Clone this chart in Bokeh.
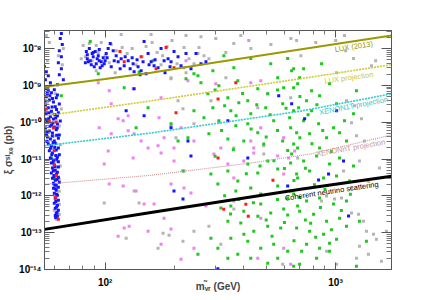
from bokeh.plotting import figure
from bokeh.models import LogAxis, FixedTicker, Label, Range1d, CustomJSTickFormatter
from bokeh.embed import file_html
from bokeh.resources import INLINE

FONT = "Liberation Sans"
X_MIN, X_MAX = 54.5, 1750.0
Y_MIN, Y_MAX = 1e-14, 3.1e-8

x_ticks = [100, 1000]
y_ticks = [1e-14, 1e-13, 1e-12, 1e-11, 1e-10, 1e-9, 1e-8]
x_title = "m\u1d65\u0303\u1d63 (GeV)"
y_title = "\u03be \u03c3\u02e2\u1d35\u2093\u2091 (pb)"

# ---- limit / projection curves (mass GeV, xi*sigma pb) ----
lux2013_m = [54.5, 100, 158, 300, 700, 1750]
lux2013_s = [9.2e-10, 1.5e-9, 2.2e-9, 4.2e-9, 9.4e-9, 2.26e-8]
luxproj_m = [54.5, 63, 158, 705, 1750]
luxproj_s = [1.5e-10, 1.69e-10, 3.8e-10, 1.52e-9, 3.66e-9]
xenon1t_m = [54.5, 158, 705, 1750]
xenon1t_s = [2.3e-11, 5.1e-11, 2.0e-10, 5.9e-10]
xenonnt_m = [54.5, 158, 429, 781, 1750]
xenonnt_s = [2.07e-12, 3.62e-12, 7.8e-12, 1.38e-11, 4.5e-11]
neutrino_m = [54.5, 158, 705, 1750]
neutrino_s = [1.23e-13, 3.55e-13, 1.52e-12, 3.4e-12]

# ---- scan points (mass GeV, xi*sigma pb) ----
blue_band = [
    (64.5, 2.56e-8), (63.8, 1.87e-8), (65.1, 1.29e-8), (63.2, 8.8e-9), (64.5, 6.0e-9),
    (62.6, 4.15e-9), (64.5, 2.85e-9), (63.2, 1.96e-9), (65.8, 1.43e-9), (62.0, 1.04e-9),
    (54.5, 3.2e-9), (55.5, 2.35e-9), (56.6, 1.84e-9), (55.0, 1.43e-9), (57.8, 1.18e-9),
    (55.0, 8.1e-10), (56.6, 7.2e-10), (58.4, 6.3e-10), (60.1, 7.6e-10), (62.0, 5.5e-10),
    (55.5, 4.9e-10), (57.2, 4.0e-10), (59.6, 3.57e-10), (61.3, 4.6e-10), (63.2, 3.15e-10),
    (55.0, 2.96e-10), (56.6, 2.47e-10), (58.4, 2.0e-10), (60.7, 2.63e-10), (62.6, 1.8e-10),
    (55.5, 1.69e-10), (57.8, 1.41e-10), (59.6, 1.23e-10), (62.0, 1.5e-10), (63.8, 1.08e-10),
    (56.1, 1.02e-10), (58.4, 8.4e-11), (60.1, 7.4e-11), (62.0, 9.0e-11), (55.0, 7.0e-11),
    (57.2, 5.8e-11), (59.0, 5.1e-11), (61.3, 6.2e-11), (63.2, 4.5e-11), (56.1, 3.95e-11),
    (57.8, 3.5e-11), (60.1, 3.1e-11), (62.6, 3.7e-11),
    (56.6, 2.55e-11), (58.4, 2.3e-11), (60.7, 2.7e-11), (62.6, 2.0e-11), (57.2, 1.68e-11),
    (59.0, 1.47e-11), (61.3, 1.77e-11), (63.2, 1.3e-11), (57.8, 1.07e-11), (59.6, 9.4e-12),
    (62.0, 1.14e-11), (58.4, 7.8e-12), (60.1, 6.9e-12), (62.6, 8.4e-12), (59.0, 5.7e-12),
    (60.7, 5.0e-12), (62.6, 6.1e-12), (58.4, 4.2e-12), (60.1, 3.6e-12), (62.0, 4.4e-12),
    (59.0, 3.0e-12), (60.7, 2.65e-12), (62.6, 3.2e-12), (59.6, 2.2e-12), (61.3, 1.95e-12),
    (63.2, 2.35e-12), (59.6, 1.62e-12), (61.3, 1.43e-12), (62.6, 1.72e-12), (60.1, 1.18e-12),
    (62.0, 1.04e-12), (60.7, 8.6e-13), (62.6, 7.6e-13), (60.1, 6.3e-13), (62.0, 5.6e-13),
    (60.7, 4.6e-13), (62.6, 4.05e-13), (61.3, 3.3e-13), (62.0, 2.8e-13), (60.7, 2.95e-13),
    (54.8, 9.0e-10), (56.0, 6.0e-10), (57.5, 5.2e-10), (59.0, 4.4e-10), (54.8, 3.8e-10),
    (58.8, 2.6e-10), (61.5, 2.2e-10), (54.6, 2.1e-10), (57.0, 1.8e-10), (60.5, 1.6e-10),
    (56.8, 1.25e-10), (61.0, 1.3e-10), (54.9, 1.2e-10), (59.3, 9.5e-11), (57.6, 7.8e-11),
    (55.8, 5.5e-11), (61.9, 7.0e-11), (58.9, 4.2e-11), (55.6, 4.7e-11), (61.6, 4.4e-11),
    (55.9, 3.0e-11), (59.4, 2.8e-11), (57.9, 1.95e-11), (60.4, 2.1e-11), (58.6, 1.3e-11),
    (61.0, 1.25e-11), (59.4, 8.2e-12), (61.6, 9.8e-12), (60.6, 6.2e-12), (59.5, 4.8e-12),
    (61.4, 3.9e-12), (59.8, 3.3e-12), (61.8, 2.8e-12), (60.5, 2.0e-12), (60.8, 1.55e-12),
    (61.5, 1.1e-12), (61.0, 7.0e-13), (61.5, 5.0e-13), (61.8, 3.6e-13), (60.9, 2.6e-13),
]
blue_cluster = [
    (82.8, 8.3e-9), (85.3, 1.0e-8), (87.8, 7.3e-9), (83.6, 5.3e-9), (84.4, 4.4e-9),
    (86.1, 4.7e-9), (88.7, 6.0e-9), (90.5, 8.3e-9), (93.3, 6.4e-9), (94.2, 4.7e-9),
    (96.1, 4.4e-9), (98.0, 5.66e-9), (99.0, 3.9e-9), (91.4, 3.9e-9), (89.6, 3.2e-9),
    (95.1, 3.0e-9), (101.0, 7.3e-9), (103.0, 1.0e-8), (105.1, 1.37e-8), (108.3, 8.8e-9),
    (109.4, 4.7e-9), (113.8, 4.4e-9), (117.3, 5.3e-9), (120.9, 3.4e-9), (125.8, 4.7e-9),
    (128.3, 2.85e-9), (132.2, 3.9e-9), (133.5, 2.35e-9), (138.9, 3.2e-9), (143.2, 2.5e-9),
    (146.0, 4.4e-9), (150.5, 2.07e-9), (147.5, 1.55e-8), (153.5, 7.3e-9), (158.2, 4.4e-9),
    (163.0, 3.4e-9), (169.6, 3.0e-9), (174.8, 1.0e-8), (180.2, 4.7e-9), (187.5, 5.3e-9),
    (193.1, 4.4e-9), (199.0, 8.3e-9), (207.1, 6.0e-9), (213.4, 3.4e-9), (224.3, 7.3e-9),
    (235.8, 2.85e-9), (247.9, 7.3e-9), (260.5, 3.9e-9), (273.8, 4.4e-9),
    (82.0, 4.15e-9), (87.0, 3.66e-9), (92.3, 5.3e-9), (97.0, 3.4e-9), (99.9, 4.7e-9),
    (83.6, 6.8e-9), (88.7, 7.8e-9), (94.2, 9.4e-9), (101.9, 5.66e-9), (106.2, 3.2e-9),
    (111.6, 6.4e-9), (116.1, 2.85e-9), (122.1, 6.0e-9), (130.9, 5.66e-9), (137.5, 5.0e-9),
    (141.7, 1.96e-9), (155.0, 3.66e-9), (164.6, 5.0e-9), (181.8, 2.2e-9), (191.2, 3.2e-9),
]
blue_scattered = [
    (123.3, 2.04e-10), (133.5, 8.13e-10), (147.5, 1.49e-10), (193.1, 7.04e-11),
    (228.7, 3.11e-11), (566.6, 5.24e-10), (340.8, 1.09e-10), (644.9, 3.17e-10),
    (734.2, 1.24e-10), (1010, 2.04e-10), (235.7, 1.21e-11), (198.9, 1.35e-12),
    (217.6, 8.18e-13), (416.0, 1.07e-11), (619.7, 1.85e-12), (308.4, 1.05e-14),
    (844.2, 2.69e-12), (1139, 2.82e-13), (1083, 8.87e-12), (932.7, 3.93e-12),
]
gray_band = [
    (55.5, 2.26e-8), (57.2, 1.46e-8), (65.8, 1.0e-8), (62.6, 6.4e-9), (56.1, 4.7e-9),
    (65.1, 3.66e-9), (57.8, 9.8e-10), (60.7, 5.9e-10), (56.1, 3.57e-10), (64.5, 2.3e-10),
    (59.0, 1.69e-10), (56.6, 1.15e-10), (63.2, 7.9e-11), (60.1, 4.2e-11), (55.5, 3.1e-11),
    (63.8, 2.45e-11), (59.6, 1.88e-11), (61.3, 8.9e-12), (63.8, 6.5e-12), (59.6, 4.7e-12),
    (63.2, 2.85e-12), (61.3, 3.4e-12), (60.1, 1.84e-12), (63.2, 1.34e-12), (61.3, 9.2e-13),
    (63.2, 5.9e-13), (60.1, 4.05e-13), (63.2, 3.1e-13), (61.3, 2.3e-13),
]
gray_cluster = [
    (80.2, 1.21e-8), (85.3, 1.37e-8), (91.4, 1.21e-8), (96.1, 1.46e-8), (82.0, 6.0e-9),
    (87.8, 4.7e-9), (93.3, 7.8e-9), (100.0, 6.4e-9), (106.2, 1.29e-8), (104.1, 4.15e-9),
    (111.6, 8.8e-9), (118.5, 1.07e-8), (124.5, 7.3e-9), (130.9, 1.0e-8), (136.2, 3.66e-9),
    (144.6, 6.0e-9), (150.5, 1.14e-8), (159.8, 1.46e-8), (168.0, 7.8e-9), (177.5, 6.4e-9),
    (185.6, 1.14e-8), (195.0, 1.65e-8), (205.0, 3.9e-9), (219.9, 1.07e-8), (231.2, 5.3e-9),
    (243.0, 3.9e-9), (255.4, 1.07e-8), (268.4, 6.4e-9), (282.0, 5.3e-9), (117.3, 2.4e-8),
    (158.2, 2.4e-8), (260.5, 2.1e-8), (91.4, 2.5e-9), (78.7, 5.3e-9), (110.5, 2.2e-9),
    (174.8, 3.66e-9), (302, 1.87e-8), (334, 7.8e-9), (388, 2.26e-8), (429, 1.0e-8),
    (524, 1.29e-8), (640, 1.87e-8), (707, 6.4e-9), (821, 1.46e-8), (1002, 1.65e-8),
    (1107, 8.8e-9), (1493, 4.7e-9), (193.1, 1.52e-9), (224.3, 2.2e-9),
]
gray_scattered = [
    (224.3, 2.26e-8), (252.7, 7.31e-9), (361.8, 1.37e-8), (193.1, 1.62e-9), (219.8, 3.04e-9),
    (334.1, 1.62e-9), (207.1, 3.83e-10), (287.7, 3.83e-10), (217.6, 2.32e-10), (459.6, 2.47e-10),
    (242.8, 9.04e-11), (638.5, 4.62e-10), (311.6, 1.0e-10), (487.9, 2.28e-11), (202.9, 3.76e-11),
    (361.8, 2.01e-11), (677.9, 1.65e-8), (1094, 2.26e-8), (1010, 2.22e-9), (1197, 5.34e-9),
    (1432, 3.44e-9), (1116, 3.83e-10), (1209, 2.80e-10), (1173, 9.63e-11), (1296, 1.24e-10),
    (1233, 4.26e-11), (1335, 3.11e-11), (178.3, 9.69e-14), (189.3, 8.5e-14), (169.6, 3.78e-14),
    (217.6, 5.87e-14), (242.8, 1.10e-13), (487.9, 1.38e-11), (684.6, 1.07e-11), (317.8, 4.86e-14),
    (589.6, 1.39e-14), (361.8, 4.37e-13), (282.0, 1.50e-13), (869.8, 7.22e-13), (914.3, 9.88e-13),
    (990.5, 8.18e-13), (1062, 8.71e-13), (1173, 3.40e-13), (1258, 3.19e-13), (1322, 2.06e-13),
    (1362, 1.10e-13), (1461, 9.10e-14), (1505, 6.65e-14), (1270, 4.29e-14), (1389, 2.60e-14),
    (1663, 1.10e-13), (1582, 1.67e-14), (1233, 2.02e-14), (1010, 1.39e-14), (914.3, 3.13e-14),
    (1173, 1.63e-12), (1389, 2.53e-12), (1551, 5.72e-12), (1083, 4.74e-12), (1270, 8.87e-12),
    (99.0, 6.37e-13), (133.5, 1.35e-12), (140.3, 6.37e-13), (123.3, 7.08e-14),
]
green = [
    (327.5, 6.44e-9), (242.8, 2.08e-9), (293.4, 2.51e-9), (361.8, 3.04e-9), (428.6, 5.34e-9),
    (523.2, 3.90e-9), (619.7, 5.34e-9), (260.4, 1.18e-9), (311.6, 9.81e-10), (376.5, 1.34e-9),
    (459.6, 8.13e-10), (561.0, 1.62e-9), (657.9, 2.85e-9), (279.2, 5.94e-10), (340.8, 4.62e-10),
    (416.0, 3.83e-10), (507.7, 5.94e-10), (595.5, 8.66e-10), (684.6, 1.11e-9), (293.4, 2.47e-10),
    (351.1, 2.04e-10), (380.3, 3.38e-10), (428.6, 1.69e-10), (497.7, 2.47e-10), (589.6, 3.17e-10),
    (657.9, 2.04e-10), (268.3, 1.32e-10), (311.6, 1.09e-10), (369.1, 7.98e-11), (416.0, 9.04e-11),
    (459.6, 5.14e-11), (539.0, 1.09e-10), (638.5, 7.04e-11), (282.0, 4.83e-11), (340.8, 3.53e-11),
    (399.7, 3.11e-11), (487.9, 2.58e-11), (589.6, 3.11e-11), (684.6, 2.01e-11), (228.7, 3.76e-11),
    (207.1, 3.11e-11), (193.1, 9.04e-11), (242.8, 2.04e-10),
    (869.8, 3.90e-9), (726.9, 2.85e-9), (644.9, 2.51e-9), (698.4, 1.62e-9), (787.3, 7.17e-10),
    (942.0, 1.11e-9), (657.9, 8.66e-10), (748.9, 3.83e-10), (852.6, 5.24e-10), (1010, 3.17e-10),
    (691.5, 2.47e-10), (787.3, 2.04e-10), (632.2, 1.32e-10), (726.9, 1.09e-10), (844.2, 9.04e-11),
    (980.3, 7.04e-11), (1094, 1.09e-10), (677.9, 5.14e-11), (771.7, 4.83e-11), (914.3, 3.76e-11),
    (1041, 5.14e-11), (1197, 1.69e-10), (1233, 7.17e-10), (657.9, 2.58e-11), (852.6, 2.01e-11),
    (1116, 3.11e-11),
    (287.7, 3.93e-12), (340.8, 4.74e-12), (376.5, 2.53e-12), (416.0, 7.35e-12), (459.6, 4.18e-12),
    (507.7, 8.87e-12), (561.0, 5.37e-12), (638.5, 7.83e-12), (684.6, 3.05e-12), (308.4, 2.10e-12),
    (369.1, 1.35e-12), (428.6, 1.63e-12), (473.5, 1.12e-12), (561.0, 1.85e-12), (619.7, 8.71e-13),
    (317.8, 4.65e-13), (351.1, 5.27e-13), (399.7, 3.85e-13), (473.5, 5.98e-13), (523.2, 3.40e-13),
    (595.5, 4.37e-13), (684.6, 5.27e-13), (340.8, 2.06e-13), (387.9, 1.82e-13), (441.6, 1.10e-13),
    (507.7, 1.50e-13), (578.0, 1.33e-13), (351.1, 7.08e-14), (416.0, 5.87e-14), (473.5, 3.78e-14),
    (539.0, 4.86e-14), (619.7, 3.13e-14), (376.5, 2.60e-14), (428.6, 2.02e-14), (507.7, 1.48e-14),
    (340.8, 2.02e-14), (287.7, 7.08e-14), (252.7, 2.60e-14), (308.4, 3.78e-14), (561.0, 2.02e-14),
    (657.9, 1.22e-14), (638.5, 1.35e-12), (217.6, 4.74e-12),
    (644.9, 1.38e-11), (726.9, 8.87e-12), (827.5, 1.21e-11), (942.0, 7.35e-12), (1041, 1.07e-11),
    (1197, 6.49e-12), (677.9, 3.93e-12), (771.7, 4.74e-12), (887.3, 3.05e-12), (1010, 3.46e-12),
    (1150, 2.53e-12), (657.9, 1.12e-12), (748.9, 7.22e-13), (852.6, 8.71e-13), (980.3, 5.98e-13),
    (1116, 7.22e-13), (1270, 2.06e-13), (698.4, 3.85e-13), (803.1, 3.19e-13), (914.3, 2.06e-13),
    (1041, 2.48e-13), (677.9, 1.33e-13), (771.7, 1.10e-13), (887.3, 9.10e-14), (1010, 6.65e-14),
    (748.9, 4.86e-14), (852.6, 3.78e-14), (942.0, 5.17e-14), (712.5, 3.13e-14), (827.5, 2.02e-14),
    (942.0, 3.13e-14), (1233, 1.22e-14), (698.4, 1.39e-14), (1116, 1.50e-13), (1362, 5.87e-14),
    (120.9, 8.66e-10), (136.2, 7.04e-11), (153.5, 2.47e-10), (86.1, 1.55e-8), (93.3, 2.08e-9),
    (140.4, 2.3e-9), (161.2, 4.71e-9), (224.3, 1.52e-9), (252.7, 1.84e-9),
    (64.5, 5.2e-10), (55.5, 1.08e-10), (58.4, 1.07e-11), (60.1, 3.0e-12),
    (300, 7.5e-10), (330, 2.8e-10), (395, 6.0e-10), (455, 3.0e-10), (520, 1.6e-10),
    (560, 7.5e-10), (610, 2.4e-10), (700, 5.0e-10), (760, 1.6e-10), (830, 3.0e-10),
    (320, 6.0e-11), (370, 1.5e-10), (430, 6.5e-11), (500, 4.0e-11), (560, 6.0e-11),
    (620, 1.7e-11), (700, 3.8e-11), (790, 2.6e-11), (880, 6.0e-11), (960, 1.6e-11),
    (300, 1.2e-11), (360, 1.8e-11), (410, 4.0e-12), (470, 6.5e-12), (540, 9.0e-12),
    (600, 5.5e-12), (660, 2.6e-12), (740, 5.6e-12), (810, 2.0e-12), (900, 1.5e-12),
    (330, 1.0e-12), (380, 8.0e-13), (440, 6.5e-13), (500, 2.2e-13), (560, 8.0e-13),
    (620, 3.0e-13), (700, 9.0e-13), (780, 1.8e-13), (860, 4.8e-13), (960, 1.2e-13),
    (350, 3.2e-13), (400, 9.0e-14), (460, 2.8e-13), (530, 8.0e-14), (600, 1.9e-13),
    (660, 6.0e-14), (740, 2.2e-13), (820, 7.5e-14), (1060, 4.0e-13), (1160, 1.1e-12),
]
violet = [
    (93.3, 1.18e-9), (104.1, 7.17e-10), (132.2, 8.13e-10), (106.2, 3.17e-10), (113.8, 1.24e-10),
    (119.7, 1.09e-10), (125.8, 1.49e-10), (94.2, 7.04e-11), (106.2, 4.83e-11), (125.8, 5.83e-11),
    (133.5, 4.83e-11), (143.2, 3.11e-11), (153.5, 2.01e-11), (99.0, 7.35e-12), (104.1, 2.10e-12),
    (119.7, 1.85e-12), (136.2, 1.35e-12), (147.5, 5.98e-13), (132.2, 1.07e-11), (103.0, 1.66e-11),
    (120.9, 1.33e-13), (127.0, 1.50e-13), (113.8, 8.03e-14), (153.5, 1.10e-13),
    (224.3, 4.71e-9), (174.8, 4.62e-10), (228.7, 1.34e-9), (302.0, 1.11e-9), (428.6, 1.18e-9),
    (473.5, 1.34e-9), (507.7, 5.94e-10), (171.3, 1.32e-10), (193.1, 7.98e-11), (213.4, 7.04e-11),
    (180.1, 3.76e-11), (242.8, 3.11e-11), (428.6, 3.11e-11), (473.5, 7.04e-11), (595.5, 3.76e-11),
    (169.6, 2.28e-11), (198.9, 2.01e-11), (317.8, 2.01e-11), (441.6, 2.01e-11),
    (174.8, 1.47e-11), (198.9, 8.87e-12), (219.8, 4.74e-12), (193.1, 2.10e-12), (219.8, 1.63e-12),
    (235.7, 1.19e-12), (163.0, 5.98e-13), (180.1, 2.48e-13), (193.1, 1.25e-13), (174.8, 4.86e-14),
    (213.4, 1.90e-14), (242.8, 3.78e-14), (296.4, 1.38e-11), (340.8, 7.35e-12), (399.7, 8.87e-12),
    (441.6, 1.47e-11), (561.0, 1.21e-11), (595.5, 3.93e-12), (361.8, 7.22e-13), (473.5, 2.48e-13),
    (595.5, 3.78e-14), (638.5, 1.39e-14), (459.6, 2.02e-14), (361.8, 3.05e-12), (273.7, 5.27e-13),
    (625.9, 1.07e-11), (664.6, 1.66e-11), (420.1, 1.65e-8),
]
red = [
    (57.2, 1.08e-10), (61.3, 1.02e-10), (59.6, 7.0e-11), (60.1, 1.68e-11), (60.1, 6.9e-12),
    (61.3, 3.6e-12), (60.7, 9.2e-13), (62.6, 2.3e-13), (55.5, 2.3e-10),
    (115.9, 8.3e-9), (143.2, 6.0e-9), (166.3, 2.85e-9), (183.7, 1.07e-8), (199.0, 3.0e-9),
    (120.9, 4.4e-9),
    (369, 1.18e-9), (309, 4.3e-10), (203, 1.8e-10), (309, 1.07e-11), (408, 5.9e-13),
    (418, 2.8e-13), (327, 4.3e-13), (535, 2.65e-12),
]

# ---- curve labels: text, mass, sigma, angle (deg), colour ----
curve_labels = [
    ("LUX (2013)", 1200, 1.13e-8, 9, "#999900"),
    ("LUX projection", 1142, 1.62e-9, 8, "#c8c83c"),
    ("XENON1T projection", 1199, 2.8e-10, 11, "#33c8c8"),
    ("XENONnT projection", 1164, 2.0e-11, 10, "#c89494"),
    ("Coherent neutrino scattering", 962, 1.34e-12, 8.7, "#000000"),
]

p = figure(width=436, height=300, x_axis_type="log", y_axis_type="log",
           x_range=Range1d(X_MIN, X_MAX), y_range=Range1d(Y_MIN, Y_MAX),
           output_backend="svg", toolbar_location=None,
           min_border_left=43, min_border_right=45, min_border_top=30, min_border_bottom=31)
p.grid.visible = False
p.outline_line_color = "#555555"
p.background_fill_color = "white"
p.border_fill_color = "white"

x_minor = [k * d for d in (10, 100, 1000) for k in range(2, 10)]
y_minor = [k * d for d in [1e-15] + y_ticks for k in range(2, 10)]

p.add_layout(LogAxis(), "right")
p.add_layout(LogAxis(), "above")

pow10 = CustomJSTickFormatter(code="""
const sup = {"-": "\u207b", "0": "\u2070", "1": "\u00b9", "2": "\u00b2", "3": "\u00b3",
             "4": "\u2074", "5": "\u2075", "6": "\u2076", "7": "\u2077", "8": "\u2078", "9": "\u2079"};
const e = Math.round(Math.log10(tick));
return "10" + String(e).split("").map(c => sup[c]).join("");
""")


def style_axis(ax, ticks, minor, major_len, minor_len, show_labels, standoff=3):
    ax.ticker = FixedTicker(ticks=ticks, minor_ticks=minor)
    ax.major_tick_in = major_len
    ax.major_tick_out = 0
    ax.minor_tick_in = minor_len
    ax.minor_tick_out = 0
    ax.axis_line_color = "#555555"
    ax.major_tick_line_color = "#555555"
    ax.minor_tick_line_color = "#777777"
    if show_labels:
        ax.formatter = pow10
        ax.major_label_text_font = FONT
        ax.major_label_text_font_style = "bold"
        ax.major_label_text_font_size = "10px"
        ax.major_label_text_color = "black"
        ax.major_label_standoff = standoff
    else:
        ax.major_label_text_font_size = "1px"
        ax.major_label_text_color = None
        ax.major_label_standoff = 0


style_axis(p.below[0], x_ticks, x_minor, 7, 4, True, 7)
style_axis(p.above[0], x_ticks, x_minor, 7, 4, False)
style_axis(p.left[0], y_ticks, y_minor, 10, 5, True, 3)
style_axis(p.right[0], y_ticks, y_minor, 10, 5, False)

xa = p.below[0]
xa.axis_label = x_title
xa.axis_label_text_font = FONT
xa.axis_label_text_font_style = "bold"
xa.axis_label_text_font_size = "10px"
xa.axis_label_standoff = -10

ya = p.left[0]
ya.axis_label = y_title
ya.axis_label_text_font = FONT
ya.axis_label_text_font_style = "bold"
ya.axis_label_text_font_size = "10px"
ya.axis_label_standoff = 2


def plot_points(groups, color):
    xs = [m for g in groups for (m, s) in g]
    ys = [s for g in groups for (m, s) in g]
    p.scatter(xs, ys, marker="square", size=3, fill_color=color, line_color=None)


plot_points([gray_band, gray_cluster, gray_scattered], "#b4b4b4")
plot_points([violet], "#ee82ee")
plot_points([green], "#1ec81e")
plot_points([blue_band, blue_cluster, blue_scattered], "#1414ff")
plot_points([red], "#ff1a1a")

p.line(lux2013_m, lux2013_s, line_color="#999900", line_width=2)
p.line(luxproj_m, luxproj_s, line_color="#cccc33", line_width=1.6, line_dash="2 1")
p.line(xenon1t_m, xenon1t_s, line_color="#33cccc", line_width=1.6, line_dash="2 1")
p.line(xenonnt_m, xenonnt_s, line_color="#cc9090", line_width=1.1, line_dash="1 1")
p.line(neutrino_m, neutrino_s, line_color="black", line_width=3)

for text, m, s, ang, col in curve_labels:
    p.add_layout(Label(x=m, y=s, text=text, angle=ang, angle_units="deg",
                       text_align="center", text_baseline="middle",
                       text_font=FONT, text_font_size="7.5px", text_color=col))

open("out.html", "w").write(file_html(p, INLINE))
